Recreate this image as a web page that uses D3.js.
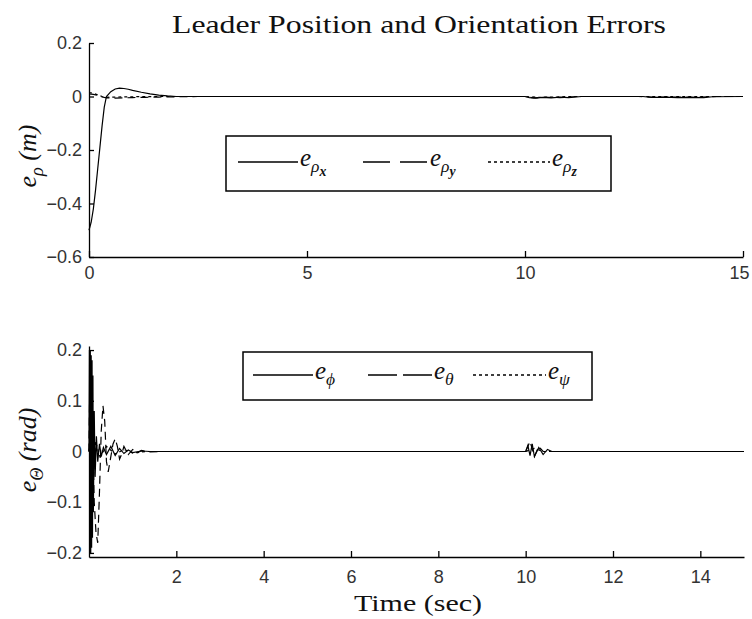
<!DOCTYPE html>
<html>
<head>
<meta charset="utf-8">
<script src="https://cdn.jsdelivr.net/npm/d3@7"></script>
<style>
  body { margin: 0; background: #fff; }
  .axis path, .axis line { stroke: #000; stroke-width: 1.3px; }
  .axis text { font-family: "Liberation Sans", Arial, sans-serif; font-size: 18px; fill: #333; }
  .serif { font-family: "Liberation Serif", "DejaVu Serif", serif; fill: #111; }
</style>
</head>
<body>
<div id="chart"></div>
<script>
// ---- DATA ----
const titleText = "Leader Position and Orientation Errors";
const xLabelText = "Time (sec)";

const topYTicks = [0.2, 0, -0.2, -0.4, -0.6];
const topXTicks = [0, 5, 10, 15];
const botYTicks = [0.2, 0.1, 0, -0.1, -0.2];
const botXTicks = [2, 4, 6, 8, 10, 12, 14];

// position errors
const tRhoX = [0, 0.05, 0.1, 0.15, 0.2, 0.25, 0.3, 0.35, 0.4, 0.5, 0.6, 0.7, 0.8, 0.9, 1.0, 1.2, 1.4, 1.6, 1.8, 2.0, 5, 10, 10.1, 10.25, 10.4, 10.6, 10.8, 11.0, 11.3, 12.7, 12.9, 13.2, 13.5, 13.8, 14.1, 14.3, 15];
const rhoX  = [-0.5, -0.47, -0.42, -0.35, -0.27, -0.19, -0.11, -0.04, 0.0, 0.018, 0.028, 0.031, 0.03, 0.027, 0.023, 0.016, 0.01, 0.005, 0.002, 0, 0, 0, -0.004, -0.006, -0.003, -0.005, -0.002, -0.004, 0, 0, -0.003, -0.002, -0.004, -0.003, -0.004, -0.001, 0];
const tRhoY = [0, 0.1, 0.2, 0.3, 0.4, 0.6, 0.8, 1.0, 1.3, 1.6, 2.0, 2.5, 10, 10.2, 10.5, 10.8, 11.2, 12.6, 13.0, 13.5, 14.0, 14.4, 15];
const rhoY  = [0.01, 0.008, 0.004, -0.002, -0.005, -0.006, -0.005, -0.004, -0.003, -0.002, -0.001, 0, 0, -0.005, -0.003, -0.004, 0, 0, -0.003, -0.002, -0.003, 0, 0];
const tRhoZ = [0, 0.1, 0.2, 0.3, 0.4, 0.6, 1.0, 1.5, 10, 10.3, 10.7, 11.0, 15];
const rhoZ  = [0.015, 0.012, 0.006, 0.0, -0.003, -0.002, -0.001, 0, 0, -0.003, -0.002, 0, 0];

// orientation errors
const tPhi = [0, 0.01, 0.02, 0.03, 0.04, 0.05, 0.06, 0.07, 0.08, 0.09, 0.1, 0.12, 0.14, 0.17, 0.2, 0.24, 0.28, 0.33, 0.4, 0.5, 0.6, 0.7, 0.8, 0.9, 1.0, 1.2, 1.4, 10, 10.05, 10.1, 10.15, 10.2, 10.3, 10.4, 10.5, 10.6, 15];
const phi  = [0, 0.2, -0.2, 0.2, -0.2, 0.19, -0.19, 0.18, -0.17, 0.15, -0.12, 0.08, -0.05, 0.03, -0.02, 0.015, -0.01, 0.008, -0.006, 0.01, -0.008, 0.006, -0.004, 0.003, -0.002, 0.001, 0, 0, 0.012, -0.008, 0.015, -0.01, 0.008, -0.006, 0.004, 0, 0];
const tTheta = [0, 0.02, 0.05, 0.08, 0.12, 0.16, 0.2, 0.24, 0.28, 0.32, 0.36, 0.4, 0.44, 0.5, 0.55, 0.6, 0.65, 0.7, 0.75, 0.8, 0.9, 1.0, 1.1, 1.2, 1.4, 1.6, 10, 10.1, 10.2, 10.3, 10.4, 15];
const theta  = [0, 0.15, -0.1, 0.05, -0.1, -0.16, -0.18, -0.08, 0.04, 0.09, 0.06, -0.02, -0.04, -0.01, 0.015, 0.025, 0.01, -0.015, -0.005, 0.01, -0.006, 0.004, -0.003, 0.002, -0.001, 0, 0, 0.02, -0.01, 0.01, 0, 0];
const tPsi = [0, 0.05, 0.1, 0.15, 0.25, 0.4, 0.6, 0.8, 1.0, 1.3, 10, 10.2, 10.4, 15];
const psi  = [0, 0.05, -0.05, 0.02, -0.01, 0.01, -0.005, 0.004, -0.003, 0, 0, 0.006, 0, 0];

const W = 752, H = 619;
const svg = d3.select("#chart").append("svg")
    .attr("width", W)
    .attr("height", H);

// SCALES
const xTop = d3.scaleLinear().domain([0, 15]).range([89, 743]);
const yTop = d3.scaleLinear().domain([-0.6, 0.2]).range([257, 43]);
const xBot = d3.scaleLinear().domain([0, 15]).range([89, 744]);
const yBot = d3.scaleLinear().domain([-0.208, 0.208]).range([557, 346]);

const fmt = d => (d === 0 ? "0" : d3.format(".1f")(d));

function drawAxes(x, y, xt, yt, labelGap) {
    const gx = svg.append("g").attr("class", "axis")
        .attr("transform", "translate(0," + y.range()[0] + ")")
        .call(d3.axisBottom(x).tickValues(xt).tickFormat(d3.format("d"))
            .tickSize(-6).tickSizeOuter(0));
    gx.selectAll("text").attr("y", labelGap).attr("dy", 0);
    // last label sits right at the page edge, nudge it in
    gx.selectAll("text").filter(d => d === 15).attr("x", -4);

    svg.append("g").attr("class", "axis")
        .attr("transform", "translate(" + x.range()[0] + ",0)")
        .call(d3.axisLeft(y).tickValues(yt).tickFormat(fmt)
            .tickSize(-5).tickSizeOuter(0).tickPadding(7));
}
drawAxes(xTop, yTop, topXTicks, topYTicks, 22);
drawAxes(xBot, yBot, botXTicks, botYTicks, 26);

// LINES
function drawLine(x, y, ts, vs, dash) {
    const line = d3.line().x((d, i) => x(ts[i])).y(d => y(d));
    svg.append("path")
        .attr("d", line(vs))
        .attr("fill", "none")
        .attr("stroke", "#000")
        .attr("stroke-width", 1.2)
        .attr("stroke-dasharray", dash);
}
drawLine(xTop, yTop, tRhoZ, rhoZ, "3,3");
drawLine(xTop, yTop, tRhoY, rhoY, "8,5");
drawLine(xTop, yTop, tRhoX, rhoX, null);
drawLine(xBot, yBot, tPsi, psi, "3,3");
drawLine(xBot, yBot, tTheta, theta, "8,5");
drawLine(xBot, yBot, tPhi, phi, null);

// TITLE + X LABEL
svg.append("text").attr("class", "serif")
    .attr("x", 419).attr("y", 33)
    .attr("text-anchor", "middle")
    .attr("font-size", 25)
    .attr("textLength", 494).attr("lengthAdjust", "spacingAndGlyphs")
    .text(titleText);

svg.append("text").attr("class", "serif")
    .attr("x", 418).attr("y", 611)
    .attr("text-anchor", "middle")
    .attr("font-size", 24)
    .attr("textLength", 128).attr("lengthAdjust", "spacingAndGlyphs")
    .text(xLabelText);

// Y LABELS (math-ish)
function mathText(g, x, y, base, sub, subsub, rest, size) {
    const t = g.append("text").attr("class", "serif")
        .attr("x", x).attr("y", y)
        .attr("font-style", "italic")
        .attr("font-size", size);
    t.append("tspan").text(base);
    t.append("tspan").attr("font-size", size * 0.7).attr("dy", size * 0.25).text(sub);
    if (subsub) {
        t.append("tspan").attr("font-size", size * 0.55).attr("font-weight", "bold")
            .attr("dy", size * 0.15).text(subsub);
    }
    if (rest) {
        t.append("tspan").attr("dy", -size * (subsub ? 0.4 : 0.25)).text(rest);
    }
    return t;
}

const yl1 = svg.append("g").attr("transform", "translate(36,156) rotate(-90)");
mathText(yl1, 0, 0, "e", "ρ", null, " (m)", 26).attr("text-anchor", "middle");
const yl2 = svg.append("g").attr("transform", "translate(36,450) rotate(-90)");
mathText(yl2, 0, 0, "e", "Θ", null, " (rad)", 26).attr("text-anchor", "middle");

// LEGENDS
function legend(box, items) {
    svg.append("rect")
        .attr("x", box[0]).attr("y", box[1])
        .attr("width", box[2] - box[0]).attr("height", box[3] - box[1])
        .attr("fill", "#fff").attr("stroke", "#000").attr("stroke-width", 1.5);
    items.forEach(it => {
        svg.append("line")
            .attr("x1", it.x1).attr("x2", it.x2)
            .attr("y1", box[4]).attr("y2", box[4])
            .attr("stroke", "#000").attr("stroke-width", 1.3)
            .attr("stroke-dasharray", it.dash);
        mathText(svg, it.x2 + 2, box[4] + 4, "e", it.sub, it.subsub, null, 25);
    });
}
legend([226, 136, 611, 191, 162], [
    { x1: 238, x2: 298, dash: null, sub: "ρ", subsub: "x" },
    { x1: 363, x2: 428, dash: "27,10", sub: "ρ", subsub: "y" },
    { x1: 488, x2: 550, dash: "3,3", sub: "ρ", subsub: "z" }
]);
legend([243, 352, 592, 400, 375], [
    { x1: 253, x2: 313, dash: null, sub: "ϕ" },
    { x1: 368, x2: 432, dash: "29,6", sub: "θ" },
    { x1: 473, x2: 546, dash: "3,3", sub: "ψ" }
]);
</script>
</body>
</html>
